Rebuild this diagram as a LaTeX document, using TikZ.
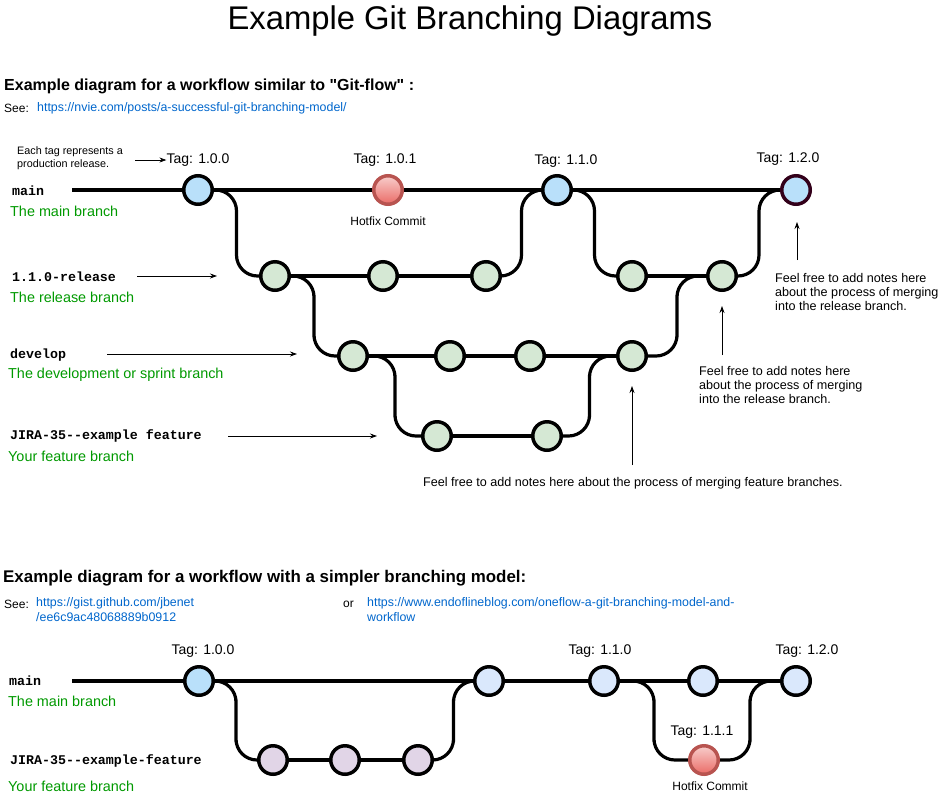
\documentclass[tikz,border=0pt]{standalone}
\usepackage{fontspec}
\setmainfont{Liberation Sans}[Ligatures=TeXOff]
\setmonofont{Liberation Mono}
\usetikzlibrary{calc,arrows.meta,backgrounds}

\definecolor{tagblue}{RGB}{185,224,250}
\definecolor{paleblue}{RGB}{218,232,252}
\definecolor{palegreen}{RGB}{213,232,212}
\definecolor{palepurple}{RGB}{225,213,231}
\definecolor{hotborder}{RGB}{184,84,80}
\definecolor{hottop}{RGB}{248,206,204}
\definecolor{hotbottom}{RGB}{234,107,102}
\definecolor{descgreen}{RGB}{0,153,0}
\definecolor{linkblue}{RGB}{0,102,204}
\definecolor{darkrim}{RGB}{51,0,26}

\begin{document}
\begin{tikzpicture}[x=1pt, y=-1pt,
		commit/.style={circle, draw=black, line width=3.5pt, minimum size=28.5pt, inner sep=0pt},
		tagged/.style={commit, fill=tagblue},
		later/.style={commit, fill=paleblue},
		devcommit/.style={commit, fill=palegreen},
		featcommit/.style={commit, fill=palepurple},
		hotfix/.style={commit, draw=hotborder, top color=hottop, bottom color=hotbottom},
		mainline/.style={line width=4pt},
		branchline/.style={line width=3.2pt, rounded corners=21pt},
		pointer/.style={line width=0.8pt, -{Stealth[length=7pt, width=5pt]}},
		tag/.style={font=\fontsize{14}{17}\selectfont, inner sep=0pt},
		small/.style={font=\fontsize{12}{14}\selectfont, inner sep=0pt},
		note/.style={font=\fontsize{12.6}{14}\selectfont, align=left, anchor=north west, inner sep=0pt},
		branchname/.style={font=\fontsize{13.3}{15}\selectfont\ttfamily\bfseries, anchor=west, inner sep=0pt},
		branchdesc/.style={font=\fontsize{14.4}{17}\selectfont, text=descgreen, anchor=west, inner sep=0pt},
		heading/.style={font=\fontsize{16}{19}\selectfont\bfseries, anchor=west, inner sep=0pt},
		link/.style={font=\fontsize{12.4}{15.5}\selectfont, text=linkblue, align=left, anchor=north west, inner sep=0pt}]
	\useasboundingbox (0,0) rectangle (941,801);

	\node[font=\fontsize{32.8}{38}\selectfont, inner sep=0pt] (title) at (470,21) {Example Git Branching Diagrams};

	% git-flow section
	\node[heading] (head1) at (4,86) {Example diagram for a workflow similar to "Git-flow" :};
	\node[small, anchor=west] (see1) at (4,108) {See:};
	\node[link, anchor=west] (url1) at (37,108) {https://nvie.com/posts/a-successful-git-branching-model/};

	\coordinate (mstart) at (72,190);
	\node[tagged] (m1) at (198,190) {};
	\node[hotfix] (m2) at (388,190) {};
	\node[tagged] (m3) at (557,190) {};
	\node[tagged, draw=darkrim] (m4) at (796,190) {};

	\node[devcommit] (r1) at (275,276) {};
	\node[devcommit] (r2) at (383,276) {};
	\node[devcommit] (r3) at (486,276) {};
	\node[devcommit] (r4) at (632,276) {};
	\node[devcommit] (r5) at (722,276) {};

	\node[devcommit] (d1) at (353,356) {};
	\node[devcommit] (d2) at (450,356) {};
	\node[devcommit] (d3) at (530,356) {};
	\node[devcommit] (d4) at (632,356) {};

	\node[devcommit] (f1) at (437,436) {};
	\node[devcommit] (f2) at (547,436) {};

	\begin{scope}[on background layer]
		\draw[mainline] (mstart) -- (m4);
		\draw[branchline] (r1) -- (r3);
		\draw[branchline] (r4) -- (r5);
		\draw[branchline] (d1) -- (d4);
		\draw[branchline] (f1) -- (f2);
		\draw[branchline] (m1) -| ($(m1)!.5!(r1)$) |- (r1);
		\draw[branchline] (r3) -| ($(r3)!.5!(m3)$) |- (m3);
		\draw[branchline] (m3) -| ($(m3)!.5!(r4)$) |- (r4);
		\draw[branchline] (r5) -| ($(r5)!.5!(m4)$) |- (m4);
		\draw[branchline] (r1) -| ($(r1)!.5!(d1)$) |- (d1);
		\draw[branchline] (d4) -| ($(d4)!.5!(r5)$) |- (r5);
		\draw[branchline] (d1) -| ($(d1)!.5!(f1)$) |- (f1);
		\draw[branchline] (f2) -| ($(f2)!.5!(d4)$) |- (d4);
	\end{scope}

	\node[tag] (t100) at (198,160) {Tag: 1.0.0};
	\node[tag] (t101) at (385,160) {Tag: 1.0.1};
	\node[tag] (t110) at (566,161) {Tag: 1.1.0};
	\node[tag] (t120) at (788,159) {Tag: 1.2.0};
	\node[small] (hot1) at (388,221) {Hotfix Commit};

	\node[font=\fontsize{10.8}{12.5}\selectfont, align=left, anchor=west, inner sep=0pt] (tagnote) at (17,158) {Each tag represents a\\production release.};
	\coordinate (tagfrom) at (135,160);
	\draw[pointer] (tagfrom) -- (t100.west);

	\node[branchname] (mainname) at (12,191) {main};
	\node[branchdesc] (maindesc) at (10,211) {The main branch};
	\node[branchname] (relname) at (12,277) {1.1.0-release};
	\node[branchdesc] (reldesc) at (10,297) {The release branch};
	\node[branchname] (devname) at (10,355) {develop};
	\node[branchdesc] (devdesc) at (8,375) {The development or sprint branch};
	\node[branchname] (featname) at (10,436) {JIRA-35--example feature};
	\node[branchdesc] (featdesc) at (8,456) {Your feature branch};

	\coordinate (relfrom) at (137,276);
	\coordinate (relto) at (217,276);
	\coordinate (devfrom) at (107,354);
	\coordinate (devto) at (297,354);
	\coordinate (featfrom) at (228,436);
	\coordinate (featto) at (377,436);
	\draw[pointer] (relfrom) -- (relto);
	\draw[pointer] (devfrom) -- (devto);
	\draw[pointer] (featfrom) -- (featto);

	\node[note] (note1) at (775,273) {Feel free to add notes here\\about the process of merging\\into the release branch.};
	\node[note] (note2) at (699,366) {Feel free to add notes here\\about the process of merging\\into the release branch.};
	\node[font=\fontsize{12.6}{14}\selectfont, inner sep=0pt] (note3) at (633,483) {Feel free to add notes here about the process of merging feature branches.};
	\coordinate (n1from) at (797,260);
	\coordinate (n1to) at (797,222);
	\coordinate (n2from) at (722,355);
	\coordinate (n2to) at (722,306);
	\coordinate (n3from) at (632,465);
	\coordinate (n3to) at (632,386);
	\draw[pointer] (n1from) -- (n1to);
	\draw[pointer] (n2from) -- (n2to);
	\draw[pointer] (n3from) -- (n3to);

	% simpler model section
	\node[heading, font=\fontsize{16.9}{20}\selectfont\bfseries] (head2) at (3,578) {Example diagram for a workflow with a simpler branching model:};
	\node[small, anchor=west] (see2) at (4,604) {See:};
	\node[link] (url2) at (36,597) {https://gist.github.com/jbenet\\/ee6c9ac48068889b0912};
	\node[small, anchor=west] (or) at (343,604) {or};
	\node[link] (url3) at (367,597) {https://www.endoflineblog.com/oneflow-a-git-branching-model-and-\\workflow};

	\coordinate (bstart) at (72,681);
	\node[tagged] (b1) at (199,681) {};
	\node[later] (b2) at (489,681) {};
	\node[later] (b3) at (604,681) {};
	\node[later] (b4) at (703,681) {};
	\node[later] (b5) at (796,681) {};
	\node[featcommit] (bf1) at (273,760) {};
	\node[featcommit] (bf2) at (345,760) {};
	\node[featcommit] (bf3) at (418,760) {};
	\node[hotfix] (bh) at (704,760) {};

	\begin{scope}[on background layer]
		\draw[mainline] (bstart) -- (b5);
		\draw[branchline] (bf1) -- (bf3);
		\draw[branchline] (b1) -| ($(b1)!.5!(bf1)$) |- (bf1);
		\draw[branchline] (bf3) -| ($(bf3)!.5!(b2)$) |- (b2);
		\draw[branchline] (b3) -| ($(b3)!.5!(bh)$) |- (bh);
		\draw[branchline] (bh) -| ($(bh)!.5!(b5)$) |- (b5);
	\end{scope}

	\node[tag] (bt100) at (203,651) {Tag: 1.0.0};
	\node[tag] (bt110) at (600,651) {Tag: 1.1.0};
	\node[tag] (bt120) at (807,651) {Tag: 1.2.0};
	\node[tag] (bt111) at (702,732) {Tag: 1.1.1};
	\node[small] (hot2) at (710,786) {Hotfix Commit};

	\node[branchname] (bmainname) at (9,681) {main};
	\node[branchdesc] (bmaindesc) at (8,701) {The main branch};
	\node[branchname] (bfeatname) at (10,761) {JIRA-35--example-feature};
	\node[branchdesc] (bfeatdesc) at (8,786) {Your feature branch};
\end{tikzpicture}
\end{document}
